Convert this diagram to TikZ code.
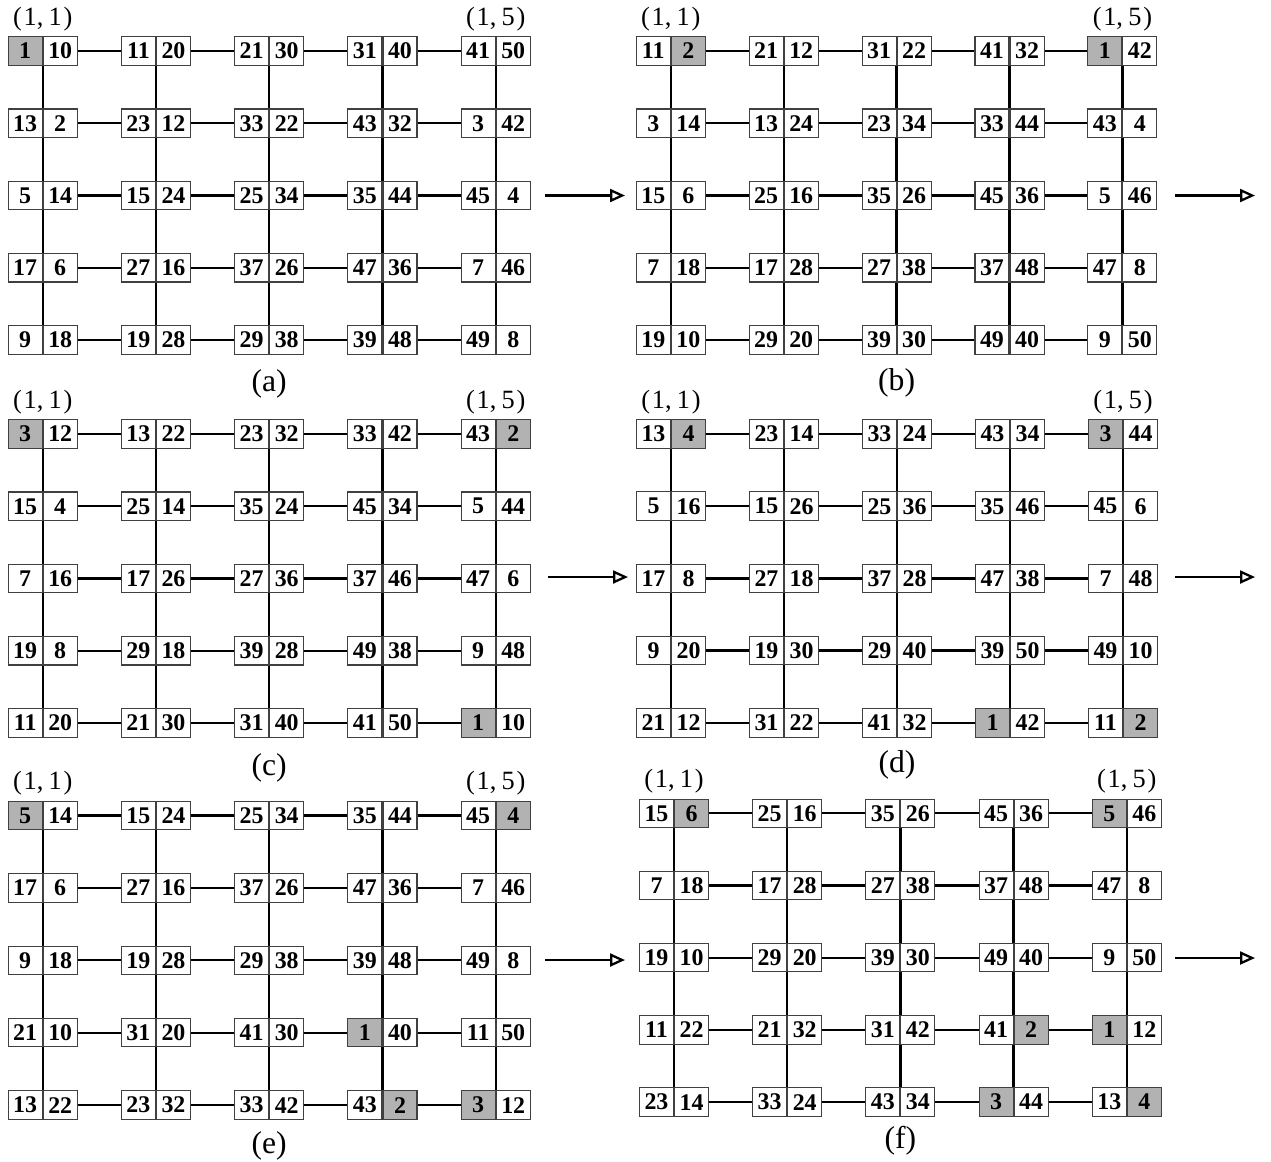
\documentclass[tikz,border=0pt]{standalone}
\usepackage{fontspec}
\setmainfont{Liberation Serif}
\usetikzlibrary{arrows.meta, positioning}
\colorlet{cellgray}{gray!60}
\tikzset{
  numbox/.style={draw=black!75, line width=0.6pt, minimum width=0.68cm,
    minimum height=0.57cm, inner sep=0pt,
    font=\fontsize{13.6}{15}\selectfont\bfseries},
  link/.style={line width=1.3pt},
  corner/.style={inner sep=0pt, font=\fontsize{15}{17}\selectfont},
  caption/.style={inner sep=0pt, font=\fontsize{18}{20}\selectfont},
  flow/.style={line width=1.3pt,
    -{Triangle[open, length=0.3cm, width=0.26cm]}},
}

% #1 name, #2/#3 divider x and row y of cell (1,1), #4/#5 steps, #6 cells
\newcommand{\meshpanel}[6]{%
  \foreach \lft/\rgt/\shd [count=\k from 0] in {#6} {
    \pgfmathtruncatemacro{\rw}{div(\k,5)+1}
    \pgfmathtruncatemacro{\cl}{mod(\k,5)+1}
    \if\shd L\def\lfill{cellgray}\else\def\lfill{white}\fi
    \if\shd R\def\rfill{cellgray}\else\def\rfill{white}\fi
    \node[numbox, fill=\lfill, anchor=east] (#1-\rw-\cl-L)
      at ({#2+(\cl-1)*#4}, {#3+(\rw-1)*#5}) {\lft};
    \node[numbox, fill=\rfill, anchor=west] (#1-\rw-\cl-R)
      at ({#2+(\cl-1)*#4}, {#3+(\rw-1)*#5}) {\rgt};
  }
  % row links
  \foreach \rw in {1,...,5} {
    \foreach \cl in {1,...,4} {
      \pgfmathtruncatemacro{\nx}{\cl+1}
      \draw[link] (#1-\rw-\cl-R.east) -- (#1-\rw-\nx-L.west);
    }
  }
  % column links
  \foreach \cl in {1,...,5} {
    \foreach \rw in {1,...,4} {
      \pgfmathtruncatemacro{\nx}{\rw+1}
      \draw[link] (#1-\rw-\cl-L.south east) -- (#1-\nx-\cl-L.north east);
    }
  }
  \node[corner, above=0.1cm of #1-1-1-L.north east] (#1-c11)
    {(\kern1pt 1,\kern3pt 1\kern1pt)};
  \node[corner, above=0.1cm of #1-1-5-L.north east] (#1-c15)
    {(\kern1pt 1,\kern3pt 5\kern1pt)};
}

\begin{document}
\begin{tikzpicture}[x=0.02cm, y=-0.02cm]
  \useasboundingbox (0,0) rectangle (1271,1161);

  % --- Panels ---
  \meshpanel{a}{42.7}{51}{113.25}{72.25}{
    1/10/L, 11/20/n, 21/30/n, 31/40/n, 41/50/n,
    13/2/n, 23/12/n, 33/22/n, 43/32/n, 3/42/n,
    5/14/n, 15/24/n, 25/34/n, 35/44/n, 45/4/n,
    17/6/n, 27/16/n, 37/26/n, 47/36/n, 7/46/n,
    9/18/n, 19/28/n, 29/38/n, 39/48/n, 49/8/n}
  \meshpanel{b}{670.8}{51}{112.9}{72.25}{
    11/2/R, 21/12/n, 31/22/n, 41/32/n, 1/42/L,
    3/14/n, 13/24/n, 23/34/n, 33/44/n, 43/4/n,
    15/6/n, 25/16/n, 35/26/n, 45/36/n, 5/46/n,
    7/18/n, 17/28/n, 27/38/n, 37/48/n, 47/8/n,
    19/10/n, 29/20/n, 39/30/n, 49/40/n, 9/50/n}
  \meshpanel{c}{42.7}{434}{113.25}{72.25}{
    3/12/L, 13/22/n, 23/32/n, 33/42/n, 43/2/R,
    15/4/n, 25/14/n, 35/24/n, 45/34/n, 5/44/n,
    7/16/n, 17/26/n, 27/36/n, 37/46/n, 47/6/n,
    19/8/n, 29/18/n, 39/28/n, 49/38/n, 9/48/n,
    11/20/n, 21/30/n, 31/40/n, 41/50/n, 1/10/L}
  \meshpanel{d}{671}{434}{113}{72.2}{
    13/4/R, 23/14/n, 33/24/n, 43/34/n, 3/44/L,
    5/16/n, 15/26/n, 25/36/n, 35/46/n, 45/6/n,
    17/8/n, 27/18/n, 37/28/n, 47/38/n, 7/48/n,
    9/20/n, 19/30/n, 29/40/n, 39/50/n, 49/10/n,
    21/12/n, 31/22/n, 41/32/n, 1/42/L, 11/2/R}
  \meshpanel{e}{42.7}{815.5}{113.25}{72.4}{
    5/14/L, 15/24/n, 25/34/n, 35/44/n, 45/4/R,
    17/6/n, 27/16/n, 37/26/n, 47/36/n, 7/46/n,
    9/18/n, 19/28/n, 29/38/n, 39/48/n, 49/8/n,
    21/10/n, 31/20/n, 41/30/n, 1/40/L, 11/50/n,
    13/22/n, 23/32/n, 33/42/n, 43/2/R, 3/12/L}
  \meshpanel{f}{674}{813.3}{113.2}{72.2}{
    15/6/R, 25/16/n, 35/26/n, 45/36/n, 5/46/L,
    7/18/n, 17/28/n, 27/38/n, 37/48/n, 47/8/n,
    19/10/n, 29/20/n, 39/30/n, 49/40/n, 9/50/n,
    11/22/n, 21/32/n, 31/42/n, 41/2/R, 1/12/L,
    23/14/n, 33/24/n, 43/34/n, 3/44/L, 13/4/R}

  % --- Captions ---
  \node[caption, below=0.28cm of a-5-3-L.south east] {(a)};
  \node[caption, below=0.26cm of b-5-3-L.south east] {(b)};
  \node[caption, below=0.3cm of c-5-3-L.south east] {(c)};
  \node[caption, below=0.26cm of d-5-3-L.south east] {(d)};
  \node[caption, below=0.22cm of e-5-3-L.south east] {(e)};
  \node[caption, below=0.17cm of f-5-3-L.south east] {(f)};

  % --- Steps ---
  \coordinate (a-go) at (545,195.5);  \coordinate (a-end) at (625,195.5);
  \coordinate (b-go) at (1175,195.5); \coordinate (b-end) at (1255,195.5);
  \coordinate (c-go) at (548,577);    \coordinate (c-end) at (628,577);
  \coordinate (d-go) at (1175,577);   \coordinate (d-end) at (1255,577);
  \coordinate (e-go) at (545,960);    \coordinate (e-end) at (625,960);
  \coordinate (f-go) at (1175,958);   \coordinate (f-end) at (1255,958);
  \foreach \p in {a,...,f}
    \draw[flow] (\p-go) -- (\p-end);
\end{tikzpicture}
\end{document}
